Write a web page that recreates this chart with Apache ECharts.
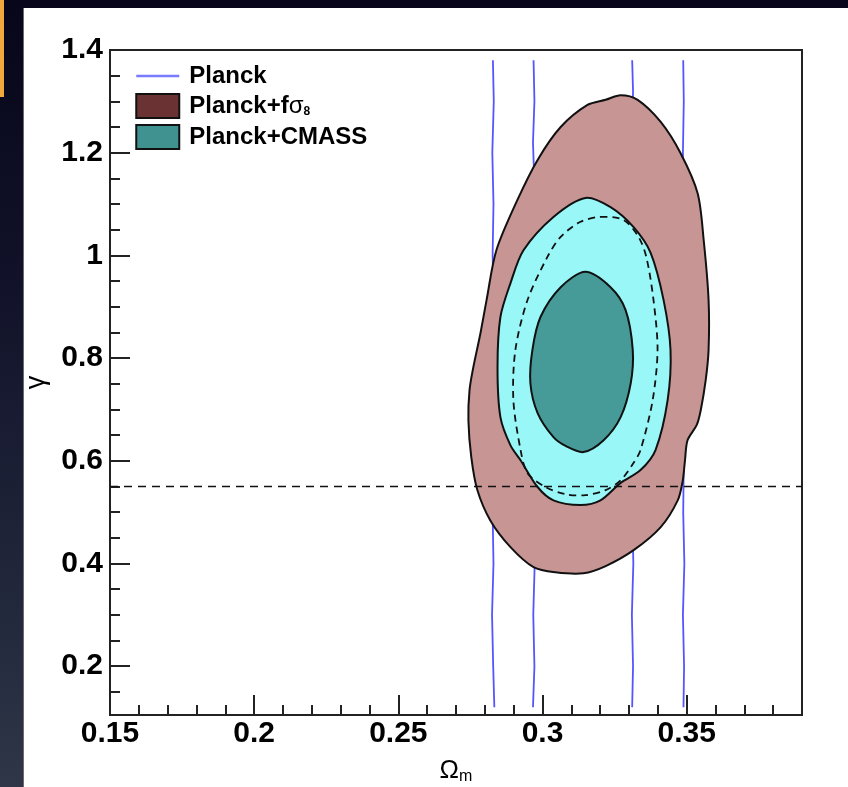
<!DOCTYPE html>
<html><head><meta charset="utf-8">
<script src="https://cdn.jsdelivr.net/npm/echarts@6/dist/echarts.min.js"></script>
<style>
html,body{margin:0;padding:0;width:848px;height:787px;overflow:hidden;background:linear-gradient(to bottom,#07061a 0%,#111229 35%,#1f2439 70%,#2e3647 100%);}
#orange{position:absolute;left:0;top:0;width:4px;height:97px;background:#f2a93b;}
#panel{position:absolute;left:23px;top:8px;right:0;bottom:0;background:#fff;border-left:1px solid #6a6a70;}
#chart{position:absolute;left:0;top:0;width:848px;height:787px;}
</style></head><body>
<div id="orange"></div><div id="panel"></div><div id="chart"></div>
<script>
// ---- data ----
const xTickValues = [0.15, 0.2, 0.25, 0.3, 0.35];
const xTickLabels = ['0.15', '0.2', '0.25', '0.3', '0.35'];
const xMinorValues = [0.16,0.17,0.18,0.19,0.21,0.22,0.23,0.24,0.26,0.27,0.28,0.29,0.31,0.32,0.33,0.34,0.36,0.37,0.38];
const yTickValues = [0.2, 0.4, 0.6, 0.8, 1.0, 1.2, 1.4];
const yTickLabels = ['0.2', '0.4', '0.6', '0.8', '1', '1.2', '1.4'];
const yMinorValues = [0.15,0.25,0.3,0.35,0.45,0.5,0.55,0.65,0.7,0.75,0.85,0.9,0.95,1.05,1.1,1.15,1.25,1.3,1.35];

// Planck (blue) contour lines [Omega_m, gamma]
const planck1 = [[0.2828,1.38],[0.2831,1.30],[0.2826,1.20],[0.2830,1.10],[0.2827,1.00],[0.2832,0.90],[0.2826,0.80],[0.2829,0.70],[0.2833,0.60],[0.2827,0.50],[0.2830,0.40],[0.2825,0.30],[0.2829,0.20],[0.2833,0.12]];
const planck2 = [[0.2969,1.38],[0.2972,1.30],[0.2967,1.22],[0.2973,1.12],[0.2968,1.02],[0.2972,0.92],[0.2967,0.82],[0.2971,0.72],[0.2975,0.60],[0.2969,0.50],[0.2973,0.40],[0.2968,0.30],[0.2972,0.20],[0.2967,0.12]];
const planck3 = [[0.3311,1.38],[0.3314,1.32],[0.3310,1.22],[0.3315,1.10],[0.3311,1.00],[0.3314,0.88],[0.3310,0.76],[0.3314,0.64],[0.3311,0.52],[0.3315,0.40],[0.3310,0.30],[0.3314,0.20],[0.3311,0.12]];
const planck4 = [[0.3488,1.38],[0.3490,1.30],[0.3487,1.20],[0.3491,1.08],[0.3488,0.96],[0.3491,0.84],[0.3487,0.72],[0.3490,0.60],[0.3488,0.50],[0.3492,0.40],[0.3487,0.30],[0.3491,0.20],[0.3489,0.12]];

// Planck+f sigma8 outer contour (filled) and inner (dashed)
const fs8Outer = [[0.3271,1.312],[0.3330,1.303],[0.3410,1.260],[0.3479,1.199],[0.3538,1.121],[0.3559,1.030],[0.3576,0.913],[0.3576,0.816],[0.3566,0.757],[0.3549,0.699],[0.3535,0.670],[0.3503,0.640],[0.3494,0.600],[0.3486,0.560],[0.3469,0.523],[0.3410,0.471],[0.3316,0.426],[0.3219,0.395],[0.3142,0.381],[0.3045,0.383],[0.2969,0.393],[0.2889,0.432],[0.2819,0.484],[0.2774,0.543],[0.2753,0.607],[0.2743,0.679],[0.2747,0.738],[0.2760,0.782],[0.2785,0.849],[0.2806,0.913],[0.2840,1.010],[0.2913,1.108],[0.2983,1.186],[0.3063,1.250],[0.3156,1.293],[0.3219,1.303]];
const fs8Inner = [[0.3201,1.075],[0.3281,1.069],[0.3333,1.036],[0.3360,0.997],[0.3385,0.913],[0.3399,0.816],[0.3382,0.718],[0.3340,0.621],[0.3316,0.596],[0.3271,0.562],[0.3219,0.543],[0.3149,0.533],[0.3080,0.535],[0.3010,0.549],[0.2948,0.576],[0.2924,0.621],[0.2899,0.718],[0.2906,0.816],[0.2948,0.913],[0.3017,0.997],[0.3063,1.036],[0.3130,1.065]];

// Planck+CMASS contours
const cmassOuter = [[0.3149,1.112],[0.3236,1.094],[0.3316,1.055],[0.3375,1.005],[0.3420,0.913],[0.3444,0.816],[0.3434,0.718],[0.3392,0.621],[0.3340,0.582],[0.3271,0.557],[0.3201,0.523],[0.3132,0.514],[0.3038,0.523],[0.2983,0.549],[0.2924,0.601],[0.2889,0.630],[0.2854,0.685],[0.2844,0.782],[0.2854,0.880],[0.2889,0.946],[0.2934,1.010],[0.3038,1.075]];
const cmassInner = [[0.3149,0.968],[0.3236,0.938],[0.3288,0.894],[0.3313,0.816],[0.3306,0.751],[0.3271,0.685],[0.3212,0.640],[0.3142,0.617],[0.3080,0.629],[0.3038,0.646],[0.2983,0.693],[0.2958,0.751],[0.2965,0.816],[0.2993,0.880],[0.3063,0.938]];

// GR reference gamma
const grGamma = [[0.15,0.55],[0.39,0.55]];

const X_MIN = 0.15, X_MAX = 0.39, Y_MIN = 0.105, Y_MAX = 1.4;

// ---- chart ----
const FONT = 'Liberation Sans, Arial, Helvetica, sans-serif';
function lookup(vals, labels, v) {
  for (let i = 0; i < vals.length; i++) if (Math.abs(vals[i] - v) < 1e-9) return labels[i];
  return '';
}
function poly(name, pts, fill, dashed, z) {
  return {
    type: 'custom', name: name, z: z, silent: true,
    data: [pts[0]],
    renderItem: function (params, api) {
      return {
        type: 'polygon',
        shape: { points: pts.map(function (p) { return api.coord(p); }), smooth: 0.3 },
        style: { fill: fill, stroke: '#111', lineWidth: dashed ? 1.8 : 2, lineDash: dashed ? [7, 5] : null }
      };
    }
  };
}
function blue(pts) {
  return { type: 'line', name: 'Planck', data: pts, symbol: 'none', z: 2, silent: true,
    lineStyle: { color: '#5555ff', width: 1.8 }, itemStyle: { color: '#7a7aff' } };
}
const tickStyle = { color: '#222', width: 2 };
const chart = echarts.init(document.getElementById('chart'));
chart.setOption({
  backgroundColor: 'transparent',
  animation: false,
  grid: { left: 110, top: 50, right: 46, bottom: 72, show: true, borderColor: '#222', borderWidth: 2, backgroundColor: 'transparent', outerBoundsMode: 'none' },
  legend: {
    orient: 'vertical', left: 135, top: 64, padding: 0, itemWidth: 43, itemHeight: 24, itemGap: 5, selectedMode: false,
    data: [
      { name: 'Planck', itemStyle: { opacity: 0 }, lineStyle: { color: '#7a7aff', width: 2.5 } },
      { name: 'Planck+fσ8', icon: 'rect', itemStyle: { color: '#6a3232', borderColor: '#111', borderWidth: 2 } },
      { name: 'Planck+CMASS', icon: 'rect', itemStyle: { color: '#3f928f', borderColor: '#111', borderWidth: 2 } }
    ],
    formatter: function (n) { return n === 'Planck+fσ8' ? 'Planck+f{g|σ}{s|8}' : n; },
    textStyle: {
      fontFamily: FONT, fontWeight: 'bold', fontSize: 24, color: '#000', lineHeight: 24, padding: [0, 0, 0, 5],
      rich: {
        g: { fontFamily: FONT, fontWeight: 'normal', fontSize: 24, color: '#000', lineHeight: 24 },
        s: { fontFamily: FONT, fontWeight: 'bold', fontSize: 12, color: '#000', lineHeight: 24, padding: [12, 0, 0, 0] }
      }
    }
  },
  xAxis: [
    {
      type: 'value', min: X_MIN, max: X_MAX, position: 'bottom',
      axisLine: { show: true, onZero: false, lineStyle: { color: '#222', width: 2 } },
      axisTick: { show: true, inside: true, length: 20, lineStyle: tickStyle, customValues: xTickValues },
      axisLabel: { customValues: xTickValues, formatter: function (v) { return lookup(xTickValues, xTickLabels, v); },
        fontFamily: FONT, fontSize: 30, fontWeight: 'bold', color: '#000', margin: 4 },
      splitLine: { show: false },
      name: '{o|Ω}{m|m}', nameLocation: 'middle', nameGap: 42,
      nameTextStyle: { rich: { o: { fontFamily: FONT, fontSize: 26, color: '#000' }, m: { fontFamily: FONT, fontSize: 16, color: '#000', padding: [12, 0, 0, 0] } } }
    },
    {
      type: 'value', min: X_MIN, max: X_MAX, position: 'bottom',
      axisLine: { show: false },
      axisTick: { show: true, inside: true, length: 10, lineStyle: tickStyle, customValues: xMinorValues },
      axisLabel: { show: false }, splitLine: { show: false }
    }
  ],
  yAxis: [
    {
      type: 'value', min: Y_MIN, max: Y_MAX, position: 'left',
      axisLine: { show: true, onZero: false, lineStyle: { color: '#222', width: 2 } },
      axisTick: { show: true, inside: true, length: 20, lineStyle: tickStyle, customValues: yTickValues },
      axisLabel: { customValues: yTickValues, formatter: function (v) { return lookup(yTickValues, yTickLabels, v); },
        fontFamily: FONT, fontSize: 30, fontWeight: 'bold', color: '#000', margin: 7 },
      splitLine: { show: false },
      name: 'γ', nameLocation: 'middle', nameGap: 50,
      nameTextStyle: { fontFamily: FONT, fontSize: 27, color: '#000' }
    },
    {
      type: 'value', min: Y_MIN, max: Y_MAX, position: 'left',
      axisLine: { show: false },
      axisTick: { show: true, inside: true, length: 10, lineStyle: tickStyle, customValues: yMinorValues },
      axisLabel: { show: false }, splitLine: { show: false }
    }
  ],
  series: [
    blue(planck1), blue(planck2), blue(planck3), blue(planck4),
    poly('Planck+fσ8', fs8Outer, '#c89595', false, 3),
    poly('Planck+CMASS', cmassOuter, '#99f7f7', false, 4),
    poly('Planck+fσ8', fs8Inner, 'none', true, 5),
    poly('Planck+CMASS', cmassInner, '#469a97', false, 6),
    { type: 'line', name: 'GR', data: grGamma, symbol: 'none', z: 7, silent: true,
      lineStyle: { color: '#111', width: 1.6, type: [8, 6] } }
  ]
});
</script></body></html>
